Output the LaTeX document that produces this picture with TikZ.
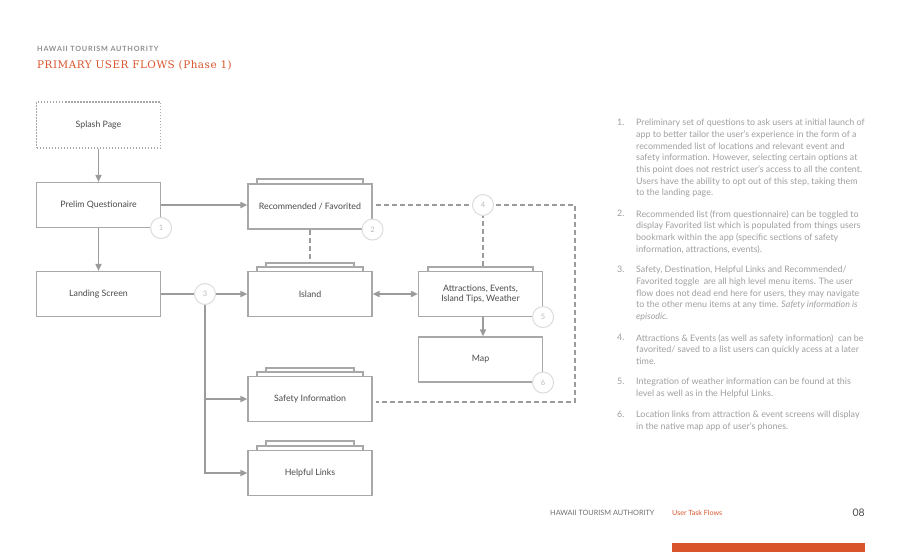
\documentclass[tikz,border=0pt]{standalone}
\usepackage{fontspec}
\setmainfont{Lato}
\newfontfamily\slabfont{DejaVu Serif}
\usetikzlibrary{arrows.meta,positioning}
\definecolor{flowGray}{HTML}{9B9B9B}
\definecolor{boxGray}{HTML}{A8A8A8}
\definecolor{inkGray}{HTML}{4A4A4A}
\definecolor{noteGray}{HTML}{9E9E9E}
\definecolor{ringGray}{HTML}{DCDCDC}
\definecolor{htaOrange}{HTML}{D9532B}

\begin{document}
\begin{tikzpicture}[x=1pt,y=-1pt,
screen/.style={rectangle,draw=boxGray,line width=1.1pt,fill=white,minimum width=124pt,minimum height=45pt,
  text=inkGray,font=\fontsize{8.8}{10.6}\selectfont,align=center,inner sep=2pt},
tab/.style={draw=boxGray,line width=1.1pt,fill=white},
flow/.style={draw=flowGray,line width=1.6pt,-{Triangle[length=7pt,width=6pt]}},
link/.style={draw=flowGray,line width=1.6pt,dash pattern=on 5pt off 3pt},
ring/.style={circle,draw=ringGray,line width=1pt,fill=white,minimum size=21pt,inner sep=0pt,
  text=ringGray!85!black,font=\fontsize{7.5}{8}\selectfont},
note/.style={anchor=north west,inner sep=0pt,align=left,text=noteGray,font=\fontsize{8.9}{11.7}\selectfont}]
\useasboundingbox (0,0) rectangle (902,552);

% header
\node[anchor=west,inner sep=0pt,text=noteGray!90!black,font=\fontsize{7.2}{8}\selectfont\bfseries\addfontfeatures{LetterSpace=11}] (org) at (37,49) {HAWAII TOURISM AUTHORITY};
\node[anchor=west,inner sep=0pt,text=htaOrange,font=\fontsize{10.4}{12}\slabfont\addfontfeatures{LetterSpace=5}] (title) at (37,65) {PRIMARY USER FLOWS (Phase 1)};

% tabs behind stacked screens
\draw[tab] (257,179) rectangle (363,184);
\draw[tab] (266,263) rectangle (354,267);
\draw[tab] (257,267) rectangle (363,272);
\draw[tab] (428,267) rectangle (533,272);
\draw[tab] (266,368) rectangle (354,372);
\draw[tab] (257,372) rectangle (363,377);
\draw[tab] (266,441) rectangle (354,446);
\draw[tab] (257,446) rectangle (363,451);

% screens
\node[screen,dash pattern=on 1.5pt off 1.5pt,minimum height=46pt] (splash) at (98.5,125) {Splash Page};
\node[screen] (prelim) at (98.5,205) {Prelim Questionaire};
\node[screen] (landing) at (98.5,294) {Landing Screen};
\node[screen] (rec) at (310,206.5) {Recommended / Favorited};
\node[screen] (island) at (310,294) {Island};
\node[screen] (attr) at (480.5,294) {Attractions, Events,\\Island Tips, Weather};
\node[screen] (map) at (480.5,359.5) {Map};
\node[screen] (safety) at (310,399) {Safety Information};
\node[screen] (helpful) at (310,473) {Helpful Links};

% connectors
\coordinate (fork) at (205,294);
\coordinate (edge) at (575,205);
\draw[flow] (splash) -- (prelim);
\draw[flow] (prelim) -- (landing);
\draw[flow] (prelim.east) -- (prelim.east -| rec.west);
\draw[flow] (landing) -- (island);
\draw[flow] (fork) |- (helpful.west);
\draw[flow] (fork |- safety.west) -- (safety.west);
\draw[flow,{Triangle[length=7pt,width=6pt]}-{Triangle[length=7pt,width=6pt]}] (island) -- (attr);
\draw[flow] (attr.south -| 483,0) -- (map.north -| 483,0);
\draw[link] (rec.south) -- ([yshift=9pt]island.north);
\draw[link] ([xshift=3pt]rec.east |- edge) -- (edge) |- ([xshift=3pt,yshift=-3pt]safety.east);
\draw[link] (483,205) -- ([yshift=5pt]attr.north -| 483,0);

% step markers
\node[ring] (r1) at (prelim.south east) {1};
\node[ring] (r2) at (rec.south east) {2};
\node[ring] (r3) at (fork) {3};
\node[ring] (r4) at (483,205) {4};
\node[ring] (r5) at (attr.south east) {5};
\node[ring] (r6) at (map.south east) {6};

% notes
\node[note] (n1) at (636,119) {Preliminary set of questions to ask users at initial launch of\\app to better tailor the user’s experience in the form of a\\recommended list of locations and relevant event and\\safety information. However, selecting certain options at\\this point does not restrict user’s access to all the content.\\Users have the ability to opt out of this step, taking them\\to the landing page.};
\node[note] at (617,119) {1.};
\node[note] (n2) at (636,210) {Recommended list (from questionnaire) can be toggled to\\display Favorited list which is populated from things users\\bookmark within the app (specific sections of safety\\information, attractions, events).};
\node[note] at (617,210) {2.};
\node[note] (n3) at (636,266) {Safety, Destination, Helpful Links and Recommended/\\Favorited toggle\ \ are all high level menu items. The user\\flow does not dead end here for users, they may navigate\\to the other menu items at any time. \textit{Safety information is}\\\textit{episodic.}};
\node[note] at (617,266) {3.};
\node[note] (n4) at (636,334) {Attractions \& Events (as well as safety information)\ \ can be\\favorited/ saved to a list users can quickly acess at a later\\time.};
\node[note] at (617,334) {4.};
\node[note] (n5) at (636,378) {Integration of weather information can be found at this\\level as well as in the Helpful Links.};
\node[note] at (617,378) {5.};
\node[note] (n6) at (636,411) {Location links from attraction \& event screens will display\\in the native map app of user’s phones.};
\node[note] at (617,411) {6.};

% footer
\node[anchor=west,inner sep=0pt,text=inkGray!80,font=\fontsize{7.3}{8}\selectfont] (foot) at (550,513) {HAWAII TOURISM AUTHORITY};
\node[anchor=west,inner sep=0pt,text=htaOrange,font=\fontsize{7.1}{8}\selectfont] (section) at (672,513) {User Task Flows};
\node[anchor=east,inner sep=0pt,text=inkGray,font=\fontsize{10.5}{12}\selectfont] (page) at (865,513) {08};
\fill[htaOrange] (672,543) rectangle (865,552);
\end{tikzpicture}
\end{document}
